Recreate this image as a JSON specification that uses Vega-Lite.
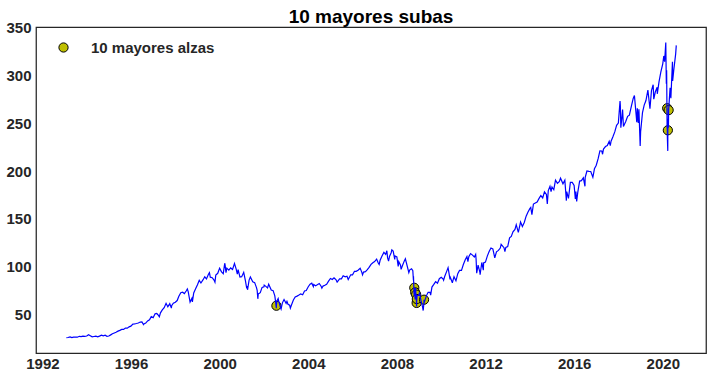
{
  "$schema": "https://vega.github.io/schema/vega-lite/v6.json",
  "width": 670,
  "height": 326,
  "autosize": "none",
  "padding": {"left": 36, "top": 27, "right": 6, "bottom": 25},
  "background": "white",
  "title": {"text": "10 mayores subas", "fontSize": 19, "fontWeight": "bold", "color": "#000000", "font": "Liberation Sans", "anchor": "middle", "offset": 6, "dy": 13},
  "datasets": {
    "precio": [
      {"fecha": "1993-01-29", "valor": 26.1}, {"fecha": "1993-02-26", "valor": 26.4}, {"fecha": "1993-03-31", "valor": 26.9}, {"fecha": "1993-04-30", "valor": 26.2}, {"fecha": "1993-05-28", "valor": 26.8}, {"fecha": "1993-06-30", "valor": 26.8}, {"fecha": "1993-07-30", "valor": 26.7}, {"fecha": "1993-08-31", "valor": 27.6}, {"fecha": "1993-09-30", "valor": 27.3}, {"fecha": "1993-10-29", "valor": 27.8}, {"fecha": "1993-11-30", "valor": 27.5}, {"fecha": "1993-12-31", "valor": 27.9},
      {"fecha": "1994-01-31", "valor": 29.3}, {"fecha": "1994-02-28", "valor": 28.3}, {"fecha": "1994-03-31", "valor": 27.1}, {"fecha": "1994-04-29", "valor": 27.4}, {"fecha": "1994-05-31", "valor": 27.7}, {"fecha": "1994-06-30", "valor": 27.0}, {"fecha": "1994-07-29", "valor": 27.8}, {"fecha": "1994-08-31", "valor": 28.8}, {"fecha": "1994-09-30", "valor": 28.1}, {"fecha": "1994-10-31", "valor": 28.7}, {"fecha": "1994-11-30", "valor": 27.6}, {"fecha": "1994-12-30", "valor": 27.9},
      {"fecha": "1995-01-31", "valor": 29.1}, {"fecha": "1995-02-28", "valor": 30.2}, {"fecha": "1995-03-31", "valor": 31.1}, {"fecha": "1995-04-28", "valor": 31.9}, {"fecha": "1995-05-31", "valor": 33.0}, {"fecha": "1995-06-30", "valor": 33.8}, {"fecha": "1995-07-31", "valor": 34.8}, {"fecha": "1995-08-31", "valor": 34.8}, {"fecha": "1995-09-29", "valor": 36.2}, {"fecha": "1995-10-31", "valor": 36.1}, {"fecha": "1995-11-30", "valor": 37.5}, {"fecha": "1995-12-29", "valor": 38.2},
      {"fecha": "1996-01-31", "valor": 40.4}, {"fecha": "1996-02-29", "valor": 40.6}, {"fecha": "1996-03-29", "valor": 41.0}, {"fecha": "1996-04-30", "valor": 41.5}, {"fecha": "1996-05-31", "valor": 42.5}, {"fecha": "1996-06-28", "valor": 42.6}, {"fecha": "1996-07-24", "valor": 39.8}, {"fecha": "1996-07-31", "valor": 40.6}, {"fecha": "1996-08-30", "valor": 41.4}, {"fecha": "1996-09-30", "valor": 43.6}, {"fecha": "1996-10-31", "valor": 44.8}, {"fecha": "1996-11-29", "valor": 48.1}, {"fecha": "1996-12-31", "valor": 47.1},
      {"fecha": "1997-01-31", "valor": 51.1}, {"fecha": "1997-02-28", "valor": 51.4}, {"fecha": "1997-03-31", "valor": 49.2}, {"fecha": "1997-04-11", "valor": 48.0}, {"fecha": "1997-04-30", "valor": 52.1}, {"fecha": "1997-05-30", "valor": 55.1}, {"fecha": "1997-06-30", "valor": 57.5}, {"fecha": "1997-07-31", "valor": 62.0}, {"fecha": "1997-08-29", "valor": 58.4}, {"fecha": "1997-09-30", "valor": 61.6}, {"fecha": "1997-10-27", "valor": 57.0}, {"fecha": "1997-10-31", "valor": 59.5}, {"fecha": "1997-11-28", "valor": 62.1}, {"fecha": "1997-12-31", "valor": 63.1},
      {"fecha": "1998-01-30", "valor": 64.9}, {"fecha": "1998-02-27", "valor": 69.4}, {"fecha": "1998-03-31", "valor": 73.0}, {"fecha": "1998-04-30", "valor": 73.6}, {"fecha": "1998-05-29", "valor": 72.2}, {"fecha": "1998-06-30", "valor": 75.1}, {"fecha": "1998-07-17", "valor": 77.0}, {"fecha": "1998-07-31", "valor": 74.2}, {"fecha": "1998-08-31", "valor": 63.4}, {"fecha": "1998-09-30", "valor": 67.3}, {"fecha": "1998-10-08", "valor": 63.5}, {"fecha": "1998-10-30", "valor": 72.8}, {"fecha": "1998-11-30", "valor": 77.1}, {"fecha": "1998-12-31", "valor": 81.4},
      {"fecha": "1999-01-29", "valor": 86.0}, {"fecha": "1999-02-26", "valor": 83.2}, {"fecha": "1999-03-31", "valor": 86.4}, {"fecha": "1999-04-30", "valor": 89.7}, {"fecha": "1999-05-28", "valor": 87.5}, {"fecha": "1999-06-30", "valor": 92.3}, {"fecha": "1999-07-16", "valor": 94.0}, {"fecha": "1999-07-30", "valor": 89.3}, {"fecha": "1999-08-31", "valor": 88.7}, {"fecha": "1999-09-30", "valor": 86.2}, {"fecha": "1999-10-15", "valor": 84.0}, {"fecha": "1999-10-29", "valor": 91.6}, {"fecha": "1999-11-30", "valor": 93.3}, {"fecha": "1999-12-31", "valor": 98.7},
      {"fecha": "2000-01-31", "valor": 94.8}, {"fecha": "2000-02-29", "valor": 92.9}, {"fecha": "2000-03-24", "valor": 103.8}, {"fecha": "2000-03-31", "valor": 101.9}, {"fecha": "2000-04-14", "valor": 94.0}, {"fecha": "2000-04-28", "valor": 98.7}, {"fecha": "2000-05-31", "valor": 96.6}, {"fecha": "2000-06-30", "valor": 98.9}, {"fecha": "2000-07-31", "valor": 97.3}, {"fecha": "2000-09-01", "valor": 103.6}, {"fecha": "2000-09-29", "valor": 97.7}, {"fecha": "2000-10-18", "valor": 92.5}, {"fecha": "2000-10-31", "valor": 97.2}, {"fecha": "2000-11-30", "valor": 89.4}, {"fecha": "2000-12-29", "valor": 89.8},
      {"fecha": "2001-01-31", "valor": 94.3}, {"fecha": "2001-02-28", "valor": 85.6}, {"fecha": "2001-03-22", "valor": 77.5}, {"fecha": "2001-03-30", "valor": 80.0}, {"fecha": "2001-04-04", "valor": 76.1}, {"fecha": "2001-04-30", "valor": 86.2}, {"fecha": "2001-05-21", "valor": 89.5}, {"fecha": "2001-06-29", "valor": 84.5}, {"fecha": "2001-07-31", "valor": 83.6}, {"fecha": "2001-08-31", "valor": 78.2}, {"fecha": "2001-09-10", "valor": 75.5}, {"fecha": "2001-09-21", "valor": 66.7}, {"fecha": "2001-09-28", "valor": 71.8}, {"fecha": "2001-10-31", "valor": 73.1}, {"fecha": "2001-11-30", "valor": 78.6}, {"fecha": "2001-12-31", "valor": 79.2},
      {"fecha": "2002-01-04", "valor": 81.0}, {"fecha": "2002-01-31", "valor": 79.7}, {"fecha": "2002-02-28", "valor": 78.0}, {"fecha": "2002-03-19", "valor": 82.0}, {"fecha": "2002-04-30", "valor": 75.9}, {"fecha": "2002-05-31", "valor": 75.2}, {"fecha": "2002-06-28", "valor": 69.8}, {"fecha": "2002-07-10", "valor": 64.0}, {"fecha": "2002-07-23", "valor": 57.0}, {"fecha": "2002-07-24", "valor": 59.5}, {"fecha": "2002-07-31", "valor": 64.3}, {"fecha": "2002-08-22", "valor": 67.0}, {"fecha": "2002-08-30", "valor": 64.6}, {"fecha": "2002-09-30", "valor": 57.5}, {"fecha": "2002-10-09", "valor": 56.0}, {"fecha": "2002-10-31", "valor": 62.5}, {"fecha": "2002-11-27", "valor": 66.0}, {"fecha": "2002-12-31", "valor": 62.0},
      {"fecha": "2003-01-14", "valor": 64.0}, {"fecha": "2003-01-31", "valor": 61.0}, {"fecha": "2003-02-28", "valor": 60.0}, {"fecha": "2003-03-11", "valor": 57.0}, {"fecha": "2003-03-31", "valor": 60.5}, {"fecha": "2003-04-30", "valor": 65.4}, {"fecha": "2003-05-30", "valor": 68.7}, {"fecha": "2003-06-30", "valor": 69.5}, {"fecha": "2003-07-31", "valor": 70.6}, {"fecha": "2003-08-29", "valor": 71.9}, {"fecha": "2003-09-30", "valor": 71.0}, {"fecha": "2003-10-31", "valor": 74.9}, {"fecha": "2003-11-28", "valor": 75.4}, {"fecha": "2003-12-31", "valor": 79.3},
      {"fecha": "2004-01-30", "valor": 82.0}, {"fecha": "2004-02-27", "valor": 83.0}, {"fecha": "2004-03-24", "valor": 79.5}, {"fecha": "2004-03-31", "valor": 81.6}, {"fecha": "2004-04-30", "valor": 80.3}, {"fecha": "2004-05-28", "valor": 81.3}, {"fecha": "2004-06-30", "valor": 82.7}, {"fecha": "2004-07-30", "valor": 79.9}, {"fecha": "2004-08-12", "valor": 77.8}, {"fecha": "2004-08-31", "valor": 80.0}, {"fecha": "2004-09-30", "valor": 80.8}, {"fecha": "2004-10-29", "valor": 81.9}, {"fecha": "2004-11-30", "valor": 85.1}, {"fecha": "2004-12-31", "valor": 87.9},
      {"fecha": "2005-01-31", "valor": 86.8}, {"fecha": "2005-02-28", "valor": 88.5}, {"fecha": "2005-03-31", "valor": 86.8}, {"fecha": "2005-04-20", "valor": 84.2}, {"fecha": "2005-05-31", "valor": 87.6}, {"fecha": "2005-06-30", "valor": 87.5}, {"fecha": "2005-07-29", "valor": 90.7}, {"fecha": "2005-08-31", "valor": 89.7}, {"fecha": "2005-09-30", "valor": 90.3}, {"fecha": "2005-10-20", "valor": 86.8}, {"fecha": "2005-11-30", "valor": 91.8}, {"fecha": "2005-12-30", "valor": 91.7},
      {"fecha": "2006-01-31", "valor": 95.4}, {"fecha": "2006-02-28", "valor": 95.4}, {"fecha": "2006-03-31", "valor": 96.5}, {"fecha": "2006-05-05", "valor": 98.6}, {"fecha": "2006-05-31", "valor": 94.6}, {"fecha": "2006-06-13", "valor": 91.8}, {"fecha": "2006-06-30", "valor": 94.6}, {"fecha": "2006-07-31", "valor": 95.1}, {"fecha": "2006-08-31", "valor": 97.1}, {"fecha": "2006-09-29", "valor": 99.5}, {"fecha": "2006-10-31", "valor": 102.7}, {"fecha": "2006-11-30", "valor": 104.4}, {"fecha": "2006-12-29", "valor": 105.6},
      {"fecha": "2007-01-31", "valor": 108.1}, {"fecha": "2007-02-27", "valor": 104.0}, {"fecha": "2007-03-14", "valor": 102.5}, {"fecha": "2007-03-30", "valor": 106.9}, {"fecha": "2007-04-30", "valor": 111.4}, {"fecha": "2007-05-31", "valor": 115.1}, {"fecha": "2007-06-29", "valor": 113.0}, {"fecha": "2007-07-19", "valor": 116.8}, {"fecha": "2007-07-31", "valor": 109.4}, {"fecha": "2007-08-16", "valor": 106.1}, {"fecha": "2007-08-31", "valor": 110.8}, {"fecha": "2007-09-28", "valor": 114.8}, {"fecha": "2007-10-09", "valor": 117.7}, {"fecha": "2007-10-31", "valor": 116.5}, {"fecha": "2007-11-26", "valor": 107.8}, {"fecha": "2007-11-30", "valor": 111.4}, {"fecha": "2007-12-31", "valor": 110.4},
      {"fecha": "2008-01-22", "valor": 100.4}, {"fecha": "2008-01-31", "valor": 105.5}, {"fecha": "2008-02-29", "valor": 101.8}, {"fecha": "2008-03-10", "valor": 97.4}, {"fecha": "2008-03-31", "valor": 101.2}, {"fecha": "2008-04-30", "valor": 106.0}, {"fecha": "2008-05-19", "valor": 108.5}, {"fecha": "2008-06-30", "valor": 97.9}, {"fecha": "2008-07-15", "valor": 94.0}, {"fecha": "2008-07-31", "valor": 96.9}, {"fecha": "2008-08-29", "valor": 98.1}, {"fecha": "2008-09-19", "valor": 96.0}, {"fecha": "2008-09-29", "valor": 86.0}, {"fecha": "2008-09-30", "valor": 90.3}, {"fecha": "2008-10-10", "valor": 70.1}, {"fecha": "2008-10-13", "valor": 78.2}, {"fecha": "2008-10-27", "valor": 66.1}, {"fecha": "2008-10-28", "valor": 73.4}, {"fecha": "2008-10-31", "valor": 75.6}, {"fecha": "2008-11-04", "valor": 78.0}, {"fecha": "2008-11-12", "valor": 66.7}, {"fecha": "2008-11-13", "valor": 71.1}, {"fecha": "2008-11-20", "valor": 58.7}, {"fecha": "2008-11-21", "valor": 62.4}, {"fecha": "2008-11-24", "valor": 66.5}, {"fecha": "2008-11-28", "valor": 69.9}, {"fecha": "2008-12-31", "valor": 70.4},
      {"fecha": "2009-01-06", "valor": 73.5}, {"fecha": "2009-01-30", "valor": 65.3}, {"fecha": "2009-02-27", "valor": 58.1}, {"fecha": "2009-03-09", "valor": 54.5}, {"fecha": "2009-03-20", "valor": 61.8}, {"fecha": "2009-03-23", "valor": 65.8}, {"fecha": "2009-03-31", "valor": 63.8}, {"fecha": "2009-04-30", "valor": 69.8}, {"fecha": "2009-05-29", "valor": 73.5}, {"fecha": "2009-06-30", "valor": 73.5}, {"fecha": "2009-07-10", "valor": 70.5}, {"fecha": "2009-07-31", "valor": 79.0}, {"fecha": "2009-08-31", "valor": 81.7}, {"fecha": "2009-09-30", "valor": 84.6}, {"fecha": "2009-10-30", "valor": 82.9}, {"fecha": "2009-11-30", "valor": 87.7}, {"fecha": "2009-12-31", "valor": 89.2},
      {"fecha": "2010-01-29", "valor": 87.5}, {"fecha": "2010-02-08", "valor": 86.0}, {"fecha": "2010-02-26", "valor": 90.0}, {"fecha": "2010-03-31", "valor": 95.3}, {"fecha": "2010-04-23", "valor": 99.2}, {"fecha": "2010-04-30", "valor": 96.7}, {"fecha": "2010-05-25", "valor": 87.0}, {"fecha": "2010-05-31", "valor": 88.8}, {"fecha": "2010-06-30", "valor": 84.0}, {"fecha": "2010-07-02", "valor": 83.3}, {"fecha": "2010-07-30", "valor": 89.8}, {"fecha": "2010-08-31", "valor": 85.5}, {"fecha": "2010-09-30", "valor": 93.0}, {"fecha": "2010-10-29", "valor": 96.4}, {"fecha": "2010-11-30", "valor": 96.3}, {"fecha": "2010-12-31", "valor": 102.5},
      {"fecha": "2011-01-31", "valor": 107.4}, {"fecha": "2011-02-28", "valor": 110.8}, {"fecha": "2011-03-16", "valor": 105.5}, {"fecha": "2011-03-31", "valor": 110.7}, {"fecha": "2011-04-29", "valor": 113.9}, {"fecha": "2011-05-31", "valor": 112.3}, {"fecha": "2011-06-30", "valor": 110.3}, {"fecha": "2011-07-22", "valor": 113.0}, {"fecha": "2011-07-29", "valor": 107.9}, {"fecha": "2011-08-08", "valor": 93.4}, {"fecha": "2011-08-31", "valor": 101.8}, {"fecha": "2011-09-30", "valor": 94.4}, {"fecha": "2011-10-03", "valor": 91.8}, {"fecha": "2011-10-31", "valor": 104.6}, {"fecha": "2011-11-25", "valor": 96.5}, {"fecha": "2011-11-30", "valor": 104.1}, {"fecha": "2011-12-30", "valor": 105.0},
      {"fecha": "2012-01-31", "valor": 111.5}, {"fecha": "2012-02-29", "valor": 116.1}, {"fecha": "2012-03-30", "valor": 119.7}, {"fecha": "2012-04-30", "valor": 118.8}, {"fecha": "2012-06-01", "valor": 109.5}, {"fecha": "2012-06-29", "valor": 115.8}, {"fecha": "2012-07-31", "valor": 117.2}, {"fecha": "2012-08-31", "valor": 119.6}, {"fecha": "2012-09-14", "valor": 123.6}, {"fecha": "2012-10-31", "valor": 120.0}, {"fecha": "2012-11-15", "valor": 116.0}, {"fecha": "2012-11-30", "valor": 120.4}, {"fecha": "2012-12-31", "valor": 121.2},
      {"fecha": "2013-01-31", "valor": 130.3}, {"fecha": "2013-02-28", "valor": 131.8}, {"fecha": "2013-03-28", "valor": 136.5}, {"fecha": "2013-04-30", "valor": 139.0}, {"fecha": "2013-05-21", "valor": 144.0}, {"fecha": "2013-06-24", "valor": 136.0}, {"fecha": "2013-07-31", "valor": 146.7}, {"fecha": "2013-08-30", "valor": 142.1}, {"fecha": "2013-09-30", "valor": 146.3}, {"fecha": "2013-10-31", "valor": 152.9}, {"fecha": "2013-11-29", "valor": 157.1}, {"fecha": "2013-12-31", "valor": 160.8},
      {"fecha": "2014-01-15", "valor": 162.0}, {"fecha": "2014-02-03", "valor": 154.5}, {"fecha": "2014-02-28", "valor": 165.5}, {"fecha": "2014-03-31", "valor": 166.6}, {"fecha": "2014-04-30", "valor": 167.7}, {"fecha": "2014-05-30", "valor": 171.2}, {"fecha": "2014-06-30", "valor": 174.4}, {"fecha": "2014-07-31", "valor": 171.9}, {"fecha": "2014-08-29", "valor": 178.3}, {"fecha": "2014-09-30", "valor": 175.5}, {"fecha": "2014-10-15", "valor": 165.7}, {"fecha": "2014-10-31", "valor": 179.6}, {"fecha": "2014-11-28", "valor": 184.1}, {"fecha": "2014-12-16", "valor": 178.5}, {"fecha": "2014-12-31", "valor": 183.3},
      {"fecha": "2015-01-30", "valor": 180.5}, {"fecha": "2015-02-27", "valor": 190.5}, {"fecha": "2015-03-31", "valor": 187.2}, {"fecha": "2015-04-30", "valor": 188.8}, {"fecha": "2015-05-21", "valor": 192.5}, {"fecha": "2015-06-30", "valor": 186.7}, {"fecha": "2015-07-31", "valor": 190.4}, {"fecha": "2015-08-25", "valor": 169.1}, {"fecha": "2015-08-31", "valor": 178.5}, {"fecha": "2015-09-29", "valor": 171.5}, {"fecha": "2015-10-30", "valor": 188.1}, {"fecha": "2015-11-30", "valor": 188.2}, {"fecha": "2015-12-31", "valor": 185.0},
      {"fecha": "2016-01-20", "valor": 171.0}, {"fecha": "2016-01-29", "valor": 178.5}, {"fecha": "2016-02-11", "valor": 168.3}, {"fecha": "2016-02-29", "valor": 177.7}, {"fecha": "2016-03-31", "valor": 189.5}, {"fecha": "2016-04-29", "valor": 190.0}, {"fecha": "2016-05-31", "valor": 192.9}, {"fecha": "2016-06-27", "valor": 184.1}, {"fecha": "2016-06-30", "valor": 193.1}, {"fecha": "2016-07-29", "valor": 200.0}, {"fecha": "2016-08-31", "valor": 199.7}, {"fecha": "2016-09-30", "valor": 199.5}, {"fecha": "2016-11-04", "valor": 193.5}, {"fecha": "2016-11-30", "valor": 202.3}, {"fecha": "2016-12-30", "valor": 206.0},
      {"fecha": "2017-01-31", "valor": 213.1}, {"fecha": "2017-02-28", "valor": 221.0}, {"fecha": "2017-03-31", "valor": 220.9}, {"fecha": "2017-04-13", "valor": 217.5}, {"fecha": "2017-04-28", "valor": 222.9}, {"fecha": "2017-05-31", "valor": 225.5}, {"fecha": "2017-06-30", "valor": 226.6}, {"fecha": "2017-07-31", "valor": 230.9}, {"fecha": "2017-08-18", "valor": 226.5}, {"fecha": "2017-08-31", "valor": 231.1}, {"fecha": "2017-09-29", "valor": 235.5}, {"fecha": "2017-10-31", "valor": 240.8}, {"fecha": "2017-11-30", "valor": 247.6}, {"fecha": "2017-12-29", "valor": 250.0},
      {"fecha": "2018-01-26", "valor": 272.9}, {"fecha": "2018-01-31", "valor": 268.3}, {"fecha": "2018-02-08", "valor": 245.2}, {"fecha": "2018-02-28", "valor": 257.8}, {"fecha": "2018-03-09", "valor": 264.0}, {"fecha": "2018-03-23", "valor": 246.5}, {"fecha": "2018-04-30", "valor": 251.6}, {"fecha": "2018-05-31", "valor": 257.0}, {"fecha": "2018-06-29", "valor": 258.2}, {"fecha": "2018-07-31", "valor": 267.5}, {"fecha": "2018-08-31", "valor": 275.7}, {"fecha": "2018-09-20", "valor": 278.8}, {"fecha": "2018-10-29", "valor": 251.0}, {"fecha": "2018-11-07", "valor": 265.5}, {"fecha": "2018-11-23", "valor": 250.0}, {"fecha": "2018-12-03", "valor": 264.5}, {"fecha": "2018-12-24", "valor": 226.0}, {"fecha": "2018-12-31", "valor": 240.7},
      {"fecha": "2019-01-31", "valor": 260.9}, {"fecha": "2019-02-28", "valor": 268.7}, {"fecha": "2019-03-29", "valor": 273.5}, {"fecha": "2019-04-30", "valor": 284.3}, {"fecha": "2019-06-03", "valor": 265.0}, {"fecha": "2019-06-28", "valor": 283.9}, {"fecha": "2019-07-26", "valor": 290.0}, {"fecha": "2019-08-05", "valor": 275.0}, {"fecha": "2019-08-30", "valor": 282.4}, {"fecha": "2019-09-30", "valor": 287.3}, {"fecha": "2019-10-02", "valor": 280.5}, {"fecha": "2019-10-31", "valor": 293.2}, {"fecha": "2019-11-29", "valor": 303.1}, {"fecha": "2019-12-31", "valor": 311.8},
      {"fecha": "2020-01-17", "valor": 320.0}, {"fecha": "2020-01-31", "valor": 314.0}, {"fecha": "2020-02-19", "valor": 334.0}, {"fecha": "2020-02-28", "valor": 291.0}, {"fecha": "2020-03-04", "valor": 305.0}, {"fecha": "2020-03-12", "valor": 244.4}, {"fecha": "2020-03-13", "valor": 265.5}, {"fecha": "2020-03-16", "valor": 235.0}, {"fecha": "2020-03-23", "valor": 221.0}, {"fecha": "2020-03-24", "valor": 242.5}, {"fecha": "2020-03-31", "valor": 254.6}, {"fecha": "2020-04-03", "valor": 245.2}, {"fecha": "2020-04-06", "valor": 263.5}, {"fecha": "2020-04-30", "valor": 286.8}, {"fecha": "2020-05-13", "valor": 276.0}, {"fecha": "2020-06-08", "valor": 314.0}, {"fecha": "2020-06-11", "valor": 294.0}, {"fecha": "2020-06-30", "valor": 305.4}, {"fecha": "2020-07-31", "valor": 322.2}, {"fecha": "2020-08-10", "valor": 331.0}
    ],
    "alzas": [
      {"fecha": "2002-07-24", "valor": 59.5, "serie": "10 mayores alzas"},
      {"fecha": "2008-10-13", "valor": 78.2, "serie": "10 mayores alzas"},
      {"fecha": "2008-10-28", "valor": 73.4, "serie": "10 mayores alzas"},
      {"fecha": "2008-11-13", "valor": 71.1, "serie": "10 mayores alzas"},
      {"fecha": "2008-11-21", "valor": 62.4, "serie": "10 mayores alzas"},
      {"fecha": "2008-11-24", "valor": 66.5, "serie": "10 mayores alzas"},
      {"fecha": "2009-03-23", "valor": 65.8, "serie": "10 mayores alzas"},
      {"fecha": "2020-03-13", "valor": 265.5, "serie": "10 mayores alzas"},
      {"fecha": "2020-03-24", "valor": 242.5, "serie": "10 mayores alzas"},
      {"fecha": "2020-04-06", "valor": 263.5, "serie": "10 mayores alzas"}
    ]
  },
  "encoding": {
    "x": {
      "field": "fecha", "type": "temporal", "title": null,
      "scale": {"domain": [{"year": 1991, "month": 9, "date": 17}, {"year": 2021, "month": 12, "date": 13}], "nice": false},
      "axis": {
        "values": [{"year": 1992, "month": 1, "date": 1}, {"year": 1996, "month": 1, "date": 1}, {"year": 2000, "month": 1, "date": 1}, {"year": 2004, "month": 1, "date": 1}, {"year": 2008, "month": 1, "date": 1}, {"year": 2012, "month": 1, "date": 1}, {"year": 2016, "month": 1, "date": 1}, {"year": 2020, "month": 1, "date": 1}],
        "format": "%Y", "labelPadding": 3, "labelFlush": false, "labelOverlap": false
      }
    },
    "y": {
      "field": "valor", "type": "quantitative", "title": null,
      "scale": {"domain": [10.2, 350.2], "nice": false, "zero": false},
      "axis": {"values": [50, 100, 150, 200, 250, 300, 350], "labelPadding": 5}
    }
  },
  "layer": [
    {
      "data": {"name": "alzas"},
      "mark": {"type": "point", "filled": true, "size": 85, "stroke": "#000000", "strokeWidth": 1, "opacity": 1},
      "encoding": {
        "color": {
          "field": "serie", "type": "nominal",
          "scale": {"range": ["#bfbf00"]},
          "legend": {
            "title": null, "orient": "none", "legendX": 20, "legendY": 13,
            "symbolType": "circle", "symbolSize": 85, "symbolStrokeColor": "#000000", "symbolStrokeWidth": 1, "symbolOpacity": 1,
            "labelFontSize": 15, "labelFontWeight": "bold", "labelFont": "Liberation Sans", "labelColor": "#262626", "labelOffset": 20
          }
        }
      }
    },
    {
      "data": {"name": "precio"},
      "mark": {"type": "line", "color": "#0000ff", "strokeWidth": 1.2},
      "encoding": {}
    }
  ],
  "config": {
    "font": "Liberation Sans",
    "view": {"stroke": "#262626", "strokeWidth": 1.25},
    "axis": {"grid": false, "ticks": false, "domain": false, "labelFont": "Liberation Sans", "labelFontSize": 15, "labelFontWeight": "bold", "labelColor": "#262626"}
  }
}
